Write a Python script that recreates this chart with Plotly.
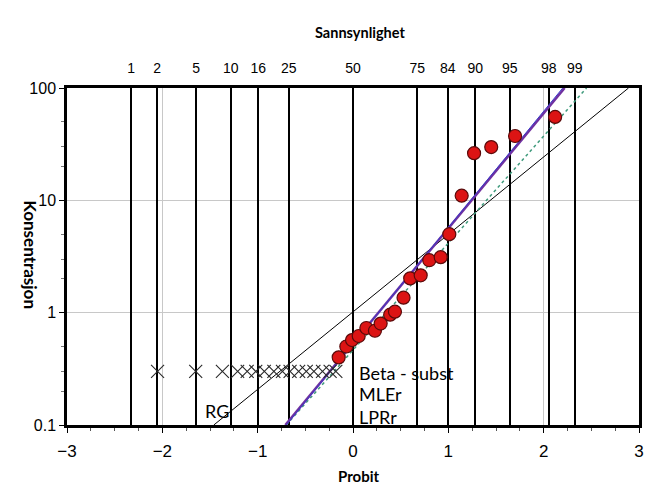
import math
import plotly.graph_objects as go
from statistics import NormalDist

# ---------------- data ----------------
prob_labels = [1, 2, 5, 10, 16, 25, 50, 75, 84, 90, 95, 98, 99]

det_probit = [-0.15, -0.07, -0.01, 0.06, 0.14, 0.23, 0.29, 0.39, 0.44, 0.53,
              0.60, 0.71, 0.80, 0.92, 1.01, 1.14, 1.27, 1.45, 1.70, 2.12]
det_conc = [0.40, 0.50, 0.57, 0.62, 0.73, 0.69, 0.80, 0.96, 1.02, 1.36,
            2.02, 2.15, 2.93, 3.12, 5.0, 11.0, 26.3, 29.8, 37.4, 55.3]

nd_probit = [-2.05, -1.65, -1.37, -1.21, -1.11, -1.02, -0.93, -0.83, -0.74,
             -0.66, -0.57, -0.49, -0.41, -0.32, -0.24, -0.18]
nd_conc = [0.3] * len(nd_probit)

rg_x = [-1.46, 2.89]
rg_y = [0.1, 100]
beta_x = [-0.71, 2.22]
beta_y = [0.1, 100]
mle_x = [-0.70, 2.20]
mle_y = [0.1, 100]
lpr_x = [-0.70, 2.45]
lpr_y = [0.1, 100]

x_ticks = [-3, -2, -1, 0, 1, 2, 3]
y_ticks = [0.1, 1, 10, 100]
y_tick_text = ["0.1", "1", "10", "100"]
y_minor = [0.2, 0.3, 0.5, 2, 3, 5, 20, 30, 50]

prob_pos = [NormalDist().inv_cdf(p / 100) for p in prob_labels]

FONT = "Liberation Sans Narrow, Liberation Sans, Arial"
LFONT = "Lato, Open Sans, sans-serif"

fig = go.Figure()

fig.add_trace(go.Scatter(x=rg_x, y=rg_y, mode="lines",
                         line=dict(color="black", width=1), showlegend=False))
fig.add_trace(go.Scatter(x=lpr_x, y=lpr_y, mode="lines",
                         line=dict(color="#3f9a7c", width=1.5, dash="dot"), showlegend=False))
fig.add_trace(go.Scatter(x=beta_x, y=beta_y, mode="lines",
                         line=dict(color="#7030a0", width=2.5), showlegend=False))
fig.add_trace(go.Scatter(x=mle_x, y=mle_y, mode="lines",
                         line=dict(color="#3a3ac8", width=1), showlegend=False))
fig.add_trace(go.Scatter(x=nd_probit, y=nd_conc, mode="markers",
                         marker=dict(symbol="x-thin-open", size=13, color="#2a2a2a",
                                     line=dict(color="#2a2a2a", width=1.1)),
                         showlegend=False))
fig.add_trace(go.Scatter(x=det_probit, y=det_conc, mode="markers",
                         marker=dict(symbol="circle", size=13, color="#dc1414",
                                     line=dict(color="#5a0a0a", width=1.2)),
                         showlegend=False))
# dummy trace for top axis
fig.add_trace(go.Scatter(x=[-3, 3], y=[1, 1], xaxis="x2", mode="none",
                         showlegend=False, hoverinfo="skip"))

# page body has an 8px margin; figure is sized so the plot area lands at x 67-642, y 88-425
fig.update_layout(
    width=648, height=489,
    margin=dict(l=59, r=14, t=80, b=72),
    paper_bgcolor="white", plot_bgcolor="white",
    font=dict(family=FONT, color="black"),
    xaxis=dict(range=[-3, 3], tickvals=x_ticks, showgrid=True,
               gridcolor="#c8c8c8", gridwidth=1, zeroline=False,
               showline=True, linecolor="black", linewidth=2.5, mirror=True,
               ticks="outside", ticklen=5, tickcolor="black",
               tickfont=dict(size=17, family=FONT), ticklabelstandoff=4,
               minor=dict(dtick=0.25, ticks="outside", ticklen=3, tickcolor="#555", showgrid=False)),
    xaxis2=dict(range=[-3, 3], overlaying="x", side="top",
                tickvals=prob_pos, ticktext=[str(p) for p in prob_labels],
                showgrid=True, gridcolor="black", gridwidth=1.6,
                zeroline=False, showline=False, ticks="outside", ticklen=8,
                tickcolor="rgba(0,0,0,0)", tickfont=dict(size=14, family=FONT)),
    yaxis=dict(type="log", range=[-1, 2], tickvals=y_ticks, ticktext=y_tick_text,
               showgrid=True, gridcolor="#c8c8c8", gridwidth=1, zeroline=False,
               showline=True, linecolor="black", linewidth=2.5, mirror=True,
               ticks="outside", ticklen=5, tickcolor="black",
               tickfont=dict(size=16, family=FONT),
               minor=dict(tickvals=y_minor, ticks="outside", ticklen=3,
                          tickcolor="#777", showgrid=False)),
)

# axis titles placed in page pixels -> plot-area paper coords
PX0, PX1, PY0, PY1 = 67, 642, 88, 425
def px2paper(px, py):
    return (px - PX0) / (PX1 - PX0), (PY1 - py) / (PY1 - PY0)

anns = [
    ("<b>Sannsynlighet</b>", 362, 22, 0, 14.5),
    ("<b>Probit</b>", 360, 487, 0, 15),
    ("<b>Konsentrasjon</b>", 18, 255, 90, 17),
]
for text, px, py, ang, fs in anns:
    ax, ay = px2paper(px, py)
    fig.add_annotation(text=text, x=ax, y=ay, xref="paper", yref="paper",
                       showarrow=False, textangle=ang,
                       font=dict(size=fs, family=LFONT, color="black"))

labels = [("RG", -1.57, 0.134), ("Beta - subst", 0.04, 0.29),
          ("MLEr", 0.04, 0.187), ("LPRr", 0.04, 0.119)]
for t, lx, ly in labels:
    fig.add_annotation(text=t, x=lx, y=math.log10(ly), yref="y", xref="x",
                       showarrow=False, xanchor="left", yanchor="middle",
                       font=dict(size=18, family=LFONT, color="black"))

fig.write_html("out.html")
